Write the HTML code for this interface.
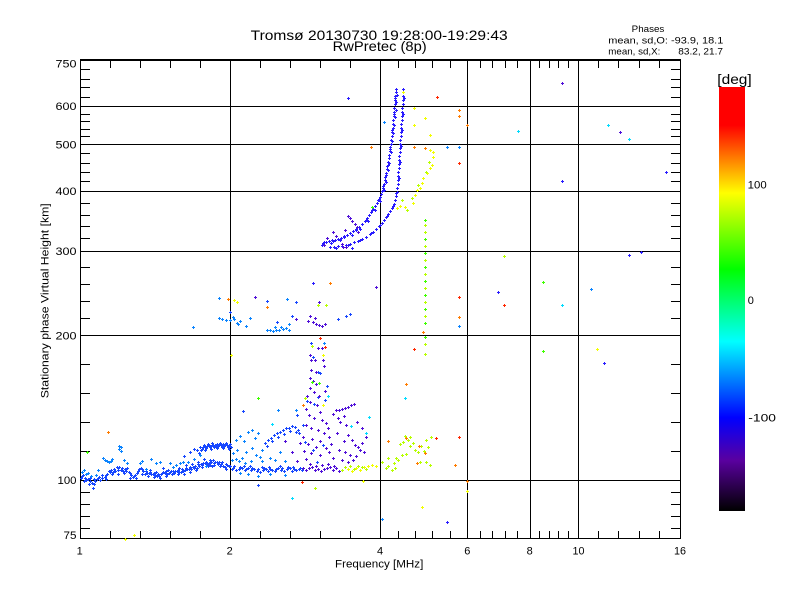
<!DOCTYPE html>
<html>
<head>
<meta charset="utf-8">
<style>
html,body{margin:0;padding:0;background:#fff;}
svg{display:block;}
text{font-family:"Liberation Sans",sans-serif;fill:#000;}
</style>
</head>
<body>
<svg width="800" height="600" viewBox="0 0 800 600" xmlns="http://www.w3.org/2000/svg">
<defs>
<linearGradient id="cb" x1="0" y1="0" x2="0" y2="1">
<stop offset="0" stop-color="#ff0000"/>
<stop offset="0.09" stop-color="#ff0000"/>
<stop offset="0.25" stop-color="#ffff00"/>
<stop offset="0.43" stop-color="#00ff00"/>
<stop offset="0.60" stop-color="#00ffff"/>
<stop offset="0.78" stop-color="#0000ff"/>
<stop offset="0.88" stop-color="#5a00a0"/>
<stop offset="1" stop-color="#000000"/>
</linearGradient>
<marker id="m1" markerWidth="3" markerHeight="3" refX="1" refY="1" markerUnits="userSpaceOnUse" overflow="visible"><path d="M0 1h3v1H0zM1 0h1v3H1z" fill="#2a1cff"/></marker>
<marker id="m2" markerWidth="3" markerHeight="3" refX="1" refY="1" markerUnits="userSpaceOnUse" overflow="visible"><path d="M0 1h3v1H0zM1 0h1v3H1z" fill="#1848ff"/></marker>
<marker id="m3" markerWidth="3" markerHeight="3" refX="1" refY="1" markerUnits="userSpaceOnUse" overflow="visible"><path d="M0 1h3v1H0zM1 0h1v3H1z" fill="#0a84ff"/></marker>
<marker id="m4" markerWidth="3" markerHeight="3" refX="1" refY="1" markerUnits="userSpaceOnUse" overflow="visible"><path d="M0 1h3v1H0zM1 0h1v3H1z" fill="#5010d8"/></marker>
<marker id="m5" markerWidth="3" markerHeight="3" refX="1" refY="1" markerUnits="userSpaceOnUse" overflow="visible"><path d="M0 1h3v1H0zM1 0h1v3H1z" fill="#00dcff"/></marker>
<marker id="m6" markerWidth="3" markerHeight="3" refX="1" refY="1" markerUnits="userSpaceOnUse" overflow="visible"><path d="M0 1h3v1H0zM1 0h1v3H1z" fill="#f2ff00"/></marker>
<marker id="m7" markerWidth="3" markerHeight="3" refX="1" refY="1" markerUnits="userSpaceOnUse" overflow="visible"><path d="M0 1h3v1H0zM1 0h1v3H1z" fill="#b8ff00"/></marker>
<marker id="m8" markerWidth="3" markerHeight="3" refX="1" refY="1" markerUnits="userSpaceOnUse" overflow="visible"><path d="M0 1h3v1H0zM1 0h1v3H1z" fill="#40ff00"/></marker>
<marker id="m9" markerWidth="3" markerHeight="3" refX="1" refY="1" markerUnits="userSpaceOnUse" overflow="visible"><path d="M0 1h3v1H0zM1 0h1v3H1z" fill="#ff7c00"/></marker>
<marker id="m10" markerWidth="3" markerHeight="3" refX="1" refY="1" markerUnits="userSpaceOnUse" overflow="visible"><path d="M0 1h3v1H0zM1 0h1v3H1z" fill="#ff2800"/></marker>
</defs>

<!-- titles -->
<text x="250.7" y="40" font-size="14" textLength="257" lengthAdjust="spacingAndGlyphs">Tromsø 20130730 19:28:00-19:29:43</text>
<text x="332.7" y="51" font-size="14" textLength="94" lengthAdjust="spacingAndGlyphs">RwPretec (8p)</text>
<text x="631.7" y="32" font-size="9" textLength="32.6" lengthAdjust="spacingAndGlyphs">Phases</text>
<text x="608.3" y="43.5" font-size="9.5" textLength="115" lengthAdjust="spacingAndGlyphs">mean, sd,O: -93.9, 18.1</text>
<text x="608.3" y="54.5" font-size="9.5" textLength="52" lengthAdjust="spacingAndGlyphs">mean, sd,X:</text>
<text x="678.3" y="54.5" font-size="9.5" textLength="44.7" lengthAdjust="spacingAndGlyphs">83.2, 21.7</text>

<!-- grid & frame -->
<g stroke="#000" stroke-width="1" shape-rendering="crispEdges" fill="none">
<path d="M230.5 60V539M380.5 60V539M467.5 60V539M530.5 60V539M578.5 60V539"/>
<path d="M80 480.5H681M80 335.5H681M80 251.5H681M80 191.5H681M80 144.5H681M80 106.5H681"/>
<path d="M80.5 59V539M680.5 59V539M80 538.5H681M80 59.5H681M80 60.5H681"/>
<path d="M110.5 61v7M140.5 61v7M170.5 61v7M200.5 61v7M260.5 61v7M290.5 61v7M320.5 61v7M350.5 61v7M398.5 61v7M415.5 61v7M432.5 61v7M450.5 61v7M480.5 61v7M492.5 61v7M505.5 61v7M517.5 61v7M539.5 61v7M549.5 61v7M558.5 61v7M568.5 61v7M598.5 61v7M618.5 61v7M639.5 61v7M659.5 61v7"/>
<path d="M110.5 531v7M140.5 531v7M170.5 531v7M200.5 531v7M260.5 531v7M290.5 531v7M320.5 531v7M350.5 531v7M398.5 531v7M415.5 531v7M432.5 531v7M450.5 531v7M480.5 531v7M492.5 531v7M505.5 531v7M517.5 531v7M539.5 531v7M549.5 531v7M558.5 531v7M568.5 531v7M598.5 531v7M618.5 531v7M639.5 531v7M659.5 531v7"/>
<path d="M81 69.5h9M81 79.5h9M81 87.5h9M81 97.5h9M81 114.5h9M81 121.5h9M81 129.5h9M81 136.5h9M81 153.5h9M81 163.5h9M81 172.5h9M81 181.5h9M81 203.5h9M81 215.5h9M81 226.5h9M81 238.5h9M81 267.5h9M81 284.5h9M81 301.5h9M81 318.5h9M81 364.5h9M81 393.5h9M81 422.5h9M81 451.5h9M81 492.5h9M81 504.5h9M81 516.5h9M81 528.5h9"/>
<path d="M671 69.5h9M671 79.5h9M671 87.5h9M671 97.5h9M671 114.5h9M671 121.5h9M671 129.5h9M671 136.5h9M671 153.5h9M671 163.5h9M671 172.5h9M671 181.5h9M671 203.5h9M671 215.5h9M671 226.5h9M671 238.5h9M671 267.5h9M671 284.5h9M671 301.5h9M671 318.5h9M671 364.5h9M671 393.5h9M671 422.5h9M671 451.5h9M671 492.5h9M671 504.5h9M671 516.5h9M671 528.5h9"/>
</g>

<!-- data points -->
<g fill="none" stroke="none">
<polyline marker-start="url(#m2)" marker-mid="url(#m2)" marker-end="url(#m2)" points="81,478 83,475 85,478 88,479 90,481 92,483 95,481 97,479 99,477 102,478 105,477 107,474 109,471 111,470 113,472 115,471 117,467 119,467 121,470 123,471 125,469 127,468 129,472 131,475 133,477 135,475 137,473 139,469 141,468 143,471 145,474 147,473 149,473 151,474 153,474 155,475 157,476 159,476 161,474 163,472 165,473 167,474 169,473 171,471 173,471 175,471 177,471 179,472 181,472 183,471 185,470 187,469 189,469 191,469 193,467 195,466 197,468 199,466 201,464 203,463 205,463 207,464 209,463 211,462 213,460 215,462 217,462 219,462 221,464 223,466 225,467 227,465 229,466 84,481 89,484 94,484 100,480 106,479 112,474 118,470 124,473 130,478 136,478 142,474 148,476 154,477 160,478 166,476 172,474 178,474 184,474 190,472 196,470 202,467 208,466 214,465 220,466 226,469 232,469 93,488 118,474 150,470 156,472 163,468 168,470 179,468 186,465 192,464 204,459 198,462 210,460 212,466 199,453 201,450 203,447 205,447 207,446 209,445 211,446 213,445 215,445 217,444 219,445 221,445 223,444 225,445 227,445 229,446 231,447 205,450 211,449 217,448 223,448 229,449 190,452 194,449 197,450 184,456 230,466 233,468 236,470 239,469 242,468 245,470 248,468 251,470 254,469 257,471 260,472 263,470 266,469 269,467 272,470 275,471 278,468 281,470 284,471 287,469 290,468 293,467 296,470 299,469 302,470 244,466 250,466 262,467 268,471 280,466 292,471 265,443 268,440 271,438 274,435 277,433 280,432 283,430 286,428 289,428 292,426 295,427 298,430 299,433 267,446 272,441 278,437 284,434 290,431 296,432 311,343 313,357 318,372 320,373 327,386 318,397 307,401 314,404 325,400 305,442 323,445 313,450 317,462 297,415 303,425 267,301 296,302 230,312 277,322 292,316 338,319 346,316 350,314 243,411 258,485 82,476 86,480 90,478 94,479 98,478 102,475 106,475 110,472 114,469 118,468 122,468 126,471 130,473 134,476 138,471 142,469 146,471 150,472 154,473 158,474 162,473 166,471 170,472 174,473 178,470 182,469 186,468 190,467 194,468 198,464 202,465 206,462 210,465 214,463 218,464 222,462 226,464 200,447 202,449 204,445 206,448 208,444 210,447 212,443 214,447 216,446 218,446 220,443 222,447 224,446 226,443 228,447 230,444 234,466 240,467 246,469 252,468 258,469 264,468 270,469 276,469 282,468 288,467 294,469 300,468"/>
<polyline marker-start="url(#m1)" marker-mid="url(#m1)" marker-end="url(#m1)" points="323,243 326,242 329,241 332,240 335,240 338,239 341,238 344,236 347,235 350,233 353,231 356,229 359,227 362,224 365,221 367,218 369,215 371,212 373,209 375,206 377,203 378,200 380,197 381,194 382,191 383,188 384,184 385,180 385,177 386,173 387,169 387,166 388,162 389,158 389,155 390,151 390,147 391,144 391,140 392,136 392,132 393,128 393,124 393,120 394,116 394,112 394,108 395,104 395,100 395,96 396,92 396,89 322,245 331,243 340,240 352,235 360,229 368,221 375,210 380,201 384,190 386,182 388,170 389,163 391,152 392,141 393,133 394,125 395,117 396,110 396,102 397,95 330,247 334,247 338,246 342,246 346,245 350,244 354,242 358,241 362,239 366,237 370,234 373,232 376,229 379,226 382,223 384,220 386,217 388,214 390,211 392,208 394,204 395,200 396,196 397,192 397,188 398,184 398,180 398,176 398,172 399,168 399,164 399,160 399,156 400,152 400,148 400,144 400,140 401,136 401,132 401,128 401,124 402,120 402,116 402,112 402,108 403,104 403,100 403,96 403,92 403,89 348,98 352,248 666,172 562,181 629,255 641,252 498,292 604,363 447,522 313,283 324,242 333,241 344,237 356,230 366,220 372,210 379,199 383,186 386,175 388,165 390,149 392,130 394,114 395,98 336,248 348,245 360,240 371,233 380,225 387,216 393,206 396,193 399,178 400,162 401,146 402,130 403,114 404,98"/>
<polyline marker-start="url(#m4)" marker-mid="url(#m4)" marker-end="url(#m4)" points="348,216 350,218 352,221 355,224 357,227 345,230 333,232 336,236 327,238 324,245 342,244 346,247 358,232 343,247 255,297 319,302 313,322 316,324 319,325 322,326 325,324 310,316 315,318 308,321 296,319 376,287 318,348 322,348 310,355 311,360 315,360 323,360 324,366 311,370 316,372 310,378 313,381 316,384 310,388 314,392 325,391 307,396 319,396 310,402 317,405 306,409 320,412 309,415 314,418 322,420 326,423 306,425 311,428 318,430 324,433 303,437 312,439 320,441 308,444 316,447 326,448 304,451 311,453 320,455 306,459 329,452 331,444 329,437 328,428 333,414 336,410 339,410 342,409 345,408 348,407 351,405 354,404 338,418 344,416 340,422 346,425 337,433 344,441 348,435 352,440 355,445 358,447 362,443 339,450 345,452 350,455 356,456 360,450 364,452 342,460 348,462 353,460 366,437 362,428 357,422 333,458 303,468 306,470 309,468 312,467 315,470 318,469 321,471 324,469 327,468 330,467 333,470 336,468 339,471 322,465 328,464 334,466 310,464 316,466 285,441 300,443 292,452 297,461 620,132 562,83"/>
<polyline marker-start="url(#m3)" marker-mid="url(#m3)" marker-end="url(#m3)" points="82,472 84,470 86,474 88,473 91,476 96,475 98,470 103,458 105,460 107,461 109,462 111,461 112,459 119,449 119,446 121,447 121,451 124,460 127,463 140,463 142,461 146,469 151,459 156,463 160,462 170,463 173,467 176,465 180,463 183,462 188,462 194,459 200,455 206,466 232,460 236,459 239,461 242,458 245,463 251,461 256,455 260,457 262,461 270,458 275,460 280,452 285,461 236,440 240,436 244,441 248,432 252,430 255,438 258,433 233,453 237,450 246,452 252,448 262,450 240,473 248,474 258,476 270,474 285,475 193,327 219,298 287,299 219,318 222,319 226,320 230,320 234,319 240,321 237,323 233,317 238,324 246,326 250,318 267,330 270,330 273,331 276,330 279,330 283,329 286,328 289,330 275,327 281,327 289,324 324,343 278,410 296,410 384,122 459,147 447,147 591,289 459,326 382,519"/>
<polyline marker-start="url(#m5)" marker-mid="url(#m5)" marker-end="url(#m5)" points="518,131 608,125 629,139 562,305 292,498 328,396 369,417 405,398 272,424 351,426 366,433"/>
<polyline marker-start="url(#m6)" marker-mid="url(#m6)" marker-end="url(#m6)" points="403,92 414,108 425,118 414,125 430,135 397,208 400,206 405,207 413,203 415,195 417,190 420,188 422,183 423,178 427,173 430,168 432,165 433,157 433,152 430,150 234,300 237,302 323,355 323,405 134,535 125,539 363,481 422,507 467,491 597,349 231,355 348,469 352,471 356,468 360,470 364,467 368,466 372,465 376,466"/>
<polyline marker-start="url(#m7)" marker-mid="url(#m7)" marker-end="url(#m7)" points="318,305 326,305 312,346 342,470 345,467 350,466 354,469 358,466 362,467 366,469 386,468 388,466 392,470 395,468 398,460 400,444 403,442 405,436 408,440 410,437 413,443 415,450 418,452 421,446 424,451 428,447 431,437 426,462 430,465 420,462 406,454 402,455 396,458 388,458 382,462 394,463 410,446 426,440 418,185 426,172 429,162 412,198 407,210 402,200 504,256 315,488 425,225 425,232 425,246 425,260 425,274 425,288 425,302 425,316 425,344 425,354 305,398"/>
<polyline marker-start="url(#m8)" marker-mid="url(#m8)" marker-end="url(#m8)" points="543,282 543,351 87,452 425,220 425,239 425,253 425,267 425,281 425,295 425,309 425,323 425,337 312,382 319,383 258,398 372,207"/>
<polyline marker-start="url(#m9)" marker-mid="url(#m9)" marker-end="url(#m9)" points="459,110 459,116 467,125 459,317 414,147 425,148 228,299 267,307 330,283 371,147 388,441 406,438 419,446 417,463 425,453 455,465 108,432 423,332 406,384 303,405 467,481"/>
<polyline marker-start="url(#m10)" marker-mid="url(#m10)" marker-end="url(#m10)" points="459,163 459,297 504,305 320,338 414,349 436,438 459,437 302,482 437,97 325,347"/>
</g>

<!-- y tick labels -->
<g font-size="11" text-anchor="end">
<text x="76.5" y="67.5" textLength="21" lengthAdjust="spacingAndGlyphs">750</text>
<text x="76.5" y="110" textLength="21" lengthAdjust="spacingAndGlyphs">600</text>
<text x="76.5" y="148.3" textLength="21" lengthAdjust="spacingAndGlyphs">500</text>
<text x="76.5" y="195" textLength="21" lengthAdjust="spacingAndGlyphs">400</text>
<text x="76.5" y="255" textLength="21" lengthAdjust="spacingAndGlyphs">300</text>
<text x="76.5" y="339.5" textLength="21" lengthAdjust="spacingAndGlyphs">200</text>
<text x="76.5" y="484" textLength="19" lengthAdjust="spacingAndGlyphs">100</text>
<text x="76.5" y="539" textLength="13" lengthAdjust="spacingAndGlyphs">75</text>
</g>
<!-- x tick labels -->
<g font-size="11" text-anchor="middle">
<text x="79.7" y="554.5">1</text>
<text x="229.7" y="554.5">2</text>
<text x="380" y="554.5">4</text>
<text x="467.3" y="554.5">6</text>
<text x="529.7" y="554.5">8</text>
<text x="578.5" y="554.5" textLength="12" lengthAdjust="spacingAndGlyphs">10</text>
<text x="680" y="554.5" textLength="12" lengthAdjust="spacingAndGlyphs">16</text>
</g>
<text x="335" y="567.3" font-size="11" textLength="88.3" lengthAdjust="spacingAndGlyphs">Frequency [MHz]</text>
<text transform="translate(48.5,300.8) rotate(-90)" font-size="11" text-anchor="middle" textLength="195" lengthAdjust="spacingAndGlyphs">Stationary phase Virtual Height [km]</text>

<!-- colorbar -->
<rect x="719" y="87" width="26" height="424" fill="url(#cb)"/>
<text x="717.3" y="84" font-size="14" textLength="34.4" lengthAdjust="spacingAndGlyphs">[deg]</text>
<g font-size="11">
<text x="747.7" y="188.3" textLength="19" lengthAdjust="spacingAndGlyphs">100</text>
<text x="747.7" y="304">0</text>
<text x="748.3" y="421.3" textLength="27.7" lengthAdjust="spacingAndGlyphs">-100</text>
</g>
</svg>
</body>
</html>
